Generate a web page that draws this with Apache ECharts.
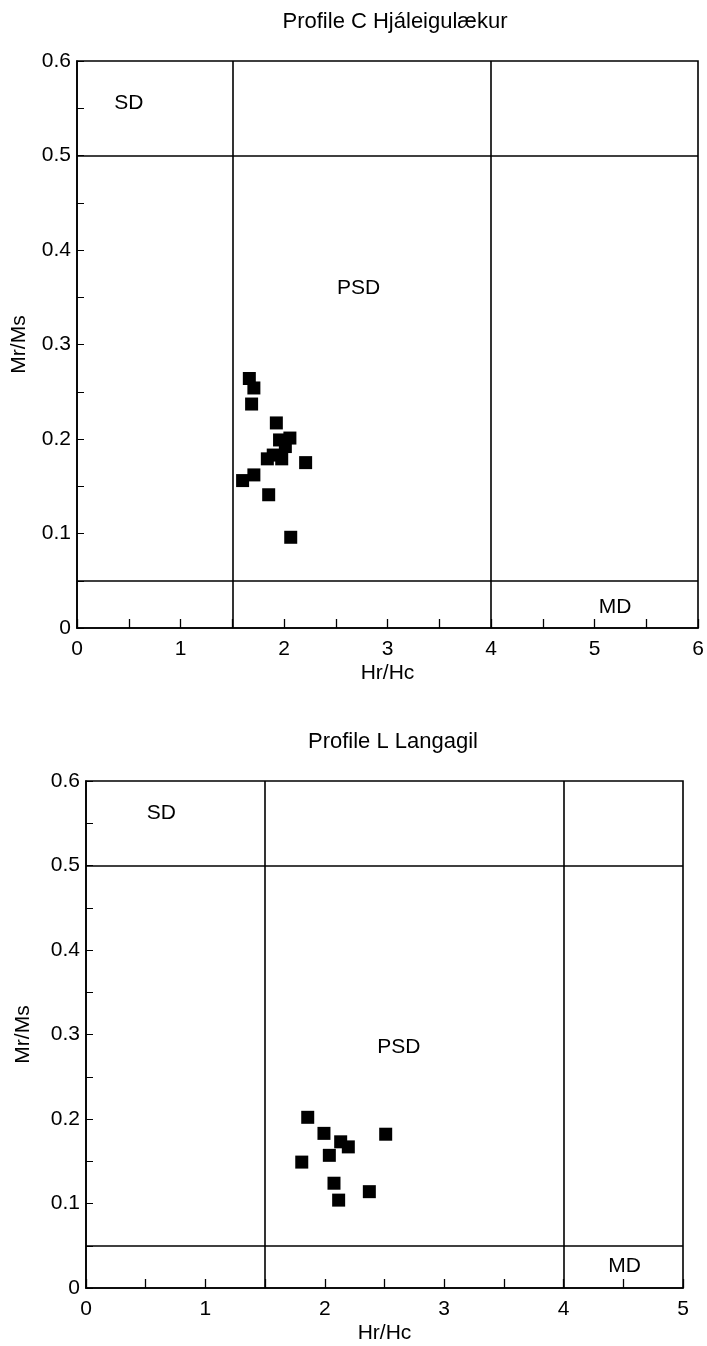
<!DOCTYPE html>
<html>
<head>
<meta charset="utf-8">
<script src="https://cdn.jsdelivr.net/npm/echarts@6/dist/echarts.min.js"></script>
<style>
  html, body { margin: 0; padding: 0; background: #fff; }
  #main { width: 707px; height: 1346px; }
</style>
</head>
<body>
<div id="main"></div>
<script>
// Profile C Hjáleigulækur
var profileCHr = [1.665, 1.709, 1.687, 1.926, 2.057, 1.957, 2.013, 1.839, 1.896, 1.978, 2.209, 1.600, 1.709, 1.852, 2.065];
var profileCMr = [0.264, 0.254, 0.237, 0.217, 0.201, 0.199, 0.192, 0.179, 0.183, 0.179, 0.175, 0.156, 0.162, 0.141, 0.096];

// Profile L Langagil
var profileLHr = [1.857, 1.993, 2.133, 2.197, 2.510, 2.038, 1.807, 2.077, 2.116, 2.373];
var profileLMr = [0.202, 0.183, 0.173, 0.167, 0.182, 0.157, 0.149, 0.124, 0.104, 0.114];

// domain boundaries
var hrBounds = [1.5, 4];
var mrBounds = [0.5, 0.05];

// zone labels [Hr/Hc, Mr/Ms, name]
var zonesC = [[0.5, 0.555, "SD"], [2.72, 0.36, "PSD"], [5.2, 0.022, "MD"]];
var zonesL = [[0.63, 0.562, "SD"], [2.62, 0.285, "PSD"], [4.51, 0.026, "MD"]];

var font = "Liberation Sans, Arial, Helvetica, sans-serif";

function zip(xs, ys) {
  return xs.map(function (x, i) { return [x, ys[i]]; });
}

function boundaryLines() {
  var d = [];
  hrBounds.forEach(function (v) { d.push({ xAxis: v }); });
  mrBounds.forEach(function (v) { d.push({ yAxis: v }); });
  return d;
}

function xAxisFor(idx, max) {
  return {
    gridIndex: idx, type: "value", min: 0, max: max, interval: 1,
    name: "Hr/Hc", nameLocation: "middle", nameGap: 35,
    nameTextStyle: { color: "#000", fontSize: 21, fontFamily: font },
    axisLine: { lineStyle: { color: "#000", width: 1.6 } },
    axisTick: { inside: true, length: 9, lineStyle: { color: "#000", width: 1.3 } },
    minorTick: { show: true, splitNumber: 2, length: 9, lineStyle: { color: "#000", width: 1.3 } },
    axisLabel: { color: "#000", fontSize: 21, fontFamily: font, margin: 11 },
    splitLine: { show: false }
  };
}

function yAxisFor(idx, gap) {
  return {
    gridIndex: idx, type: "value", min: 0, max: 0.6, interval: 0.1,
    name: "Mr/Ms", nameLocation: "middle", nameGap: gap,
    nameTextStyle: { color: "#000", fontSize: 21, fontFamily: font },
    axisLine: { lineStyle: { color: "#000", width: 1.6 } },
    axisTick: { inside: true, length: 7, lineStyle: { color: "#000", width: 1 } },
    minorTick: { show: true, splitNumber: 2, length: 7, lineStyle: { color: "#000", width: 1 } },
    axisLabel: {
      color: "#000", fontSize: 21, fontFamily: font, margin: 6,
      formatter: function (v) { return v === 0 ? "0" : v.toFixed(1); }
    },
    splitLine: { show: false }
  };
}

function pointsSeries(idx, data) {
  return {
    type: "scatter", xAxisIndex: idx, yAxisIndex: idx,
    data: data, symbol: "rect", symbolSize: 13,
    itemStyle: { color: "#000", opacity: 1 },
    markLine: {
      silent: true, symbol: "none", label: { show: false },
      lineStyle: { color: "#000", width: 1.6, type: "solid", opacity: 1 },
      data: boundaryLines()
    },
    z: 3
  };
}

function zoneSeries(idx, zones) {
  return {
    type: "scatter", xAxisIndex: idx, yAxisIndex: idx,
    symbolSize: 1, itemStyle: { color: "rgba(0,0,0,0)", opacity: 1 },
    data: zones.map(function (z) { return { name: z[2], value: [z[0], z[1]] }; }),
    label: {
      show: true, position: "inside", color: "#000",
      fontSize: 21, fontFamily: font,
      formatter: function (p) { return p.name; }
    },
    silent: true
  };
}

var myChart = echarts.init(document.getElementById("main"));

var option = {
  backgroundColor: "#fff",
  animation: false,
  title: [
    { text: "Profile C Hjáleigulækur", left: 390, textAlign: "center", top: 6,
      textStyle: { color: "#000", fontSize: 22, fontWeight: "normal", fontFamily: font } },
    { text: "Profile L Langagil", left: 388, textAlign: "center", top: 726,
      textStyle: { color: "#000", fontSize: 22, fontWeight: "normal", fontFamily: font } }
  ],
  grid: [
    { left: 77, right: 9, top: 61, height: 567, show: true, borderColor: "#000", borderWidth: 1.6 },
    { left: 86, right: 24, top: 781, height: 507, show: true, borderColor: "#000", borderWidth: 1.6 }
  ],
  xAxis: [xAxisFor(0, 6), xAxisFor(1, 5)],
  yAxis: [yAxisFor(0, 47), yAxisFor(1, 52)],
  series: [
    pointsSeries(0, zip(profileCHr, profileCMr)),
    zoneSeries(0, zonesC),
    pointsSeries(1, zip(profileLHr, profileLMr)),
    zoneSeries(1, zonesL)
  ]
};

option && myChart.setOption(option);
</script>
</body>
</html>
